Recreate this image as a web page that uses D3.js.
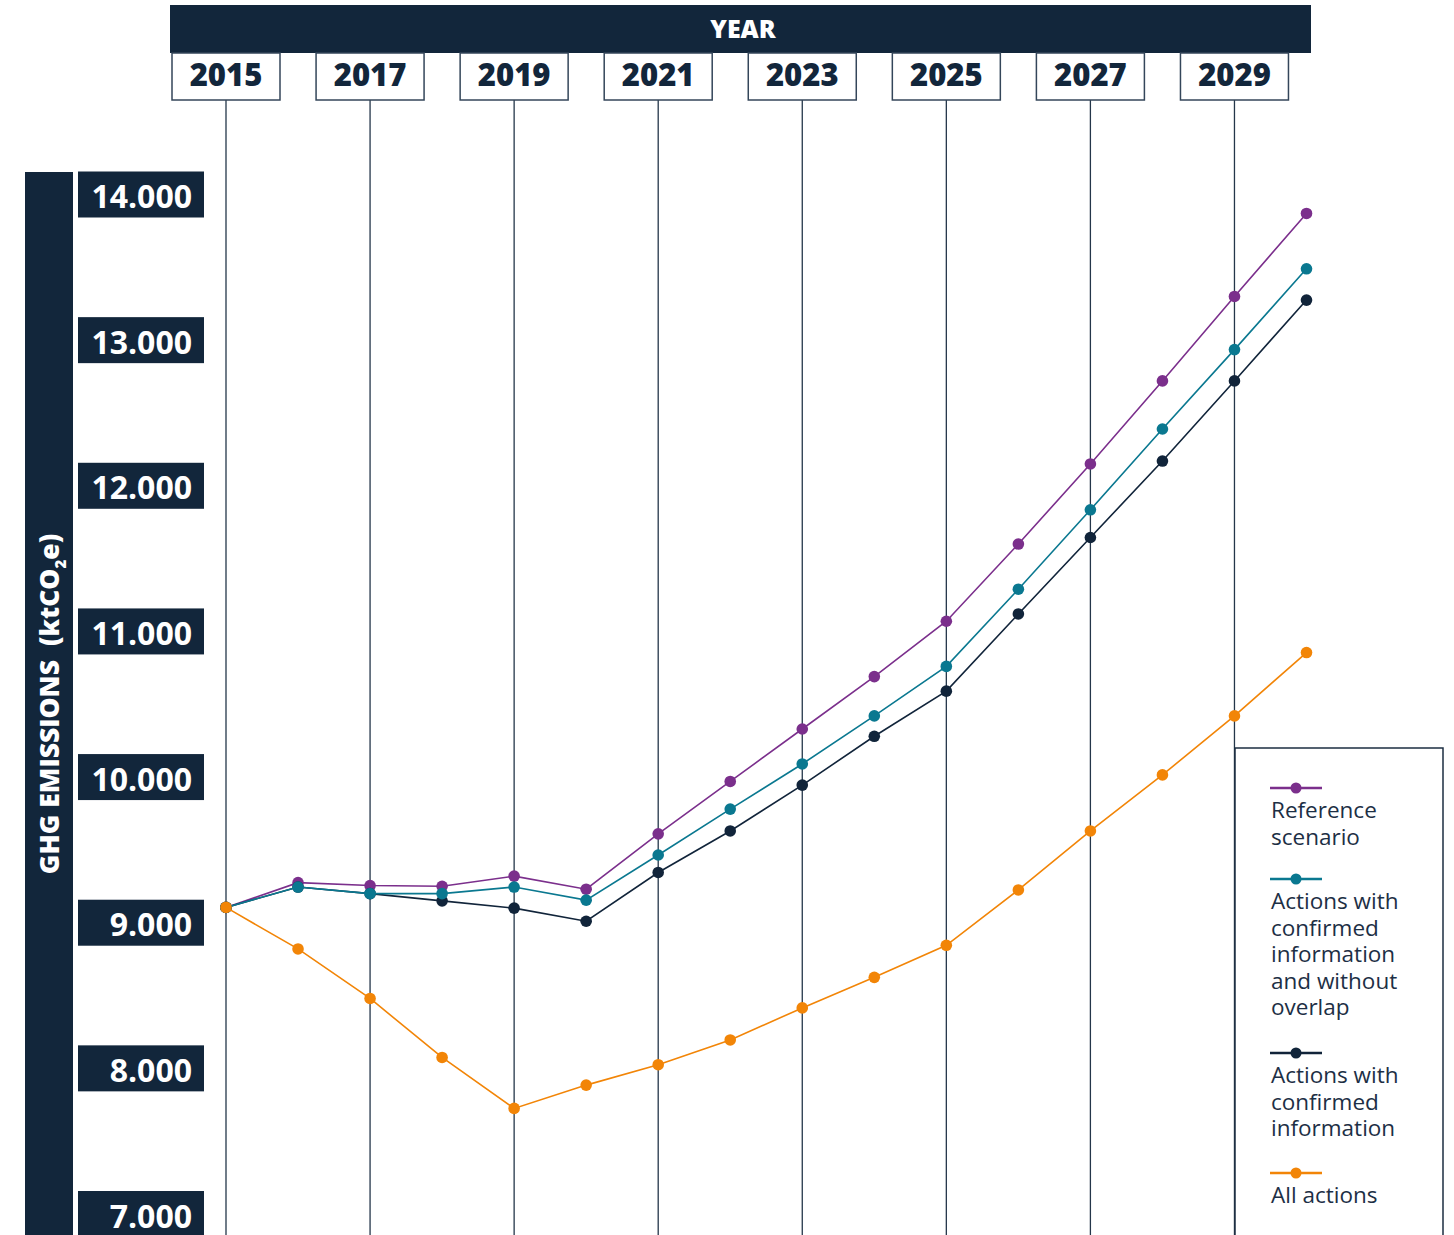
<!DOCTYPE html>
<html>
<head>
<meta charset="utf-8">
<script src="https://cdn.jsdelivr.net/npm/d3@7"></script>
<style>
  body { margin: 0; background: #fff; }
  svg { display: block; font-family: "Open Sans", "Noto Sans", sans-serif; }
</style>
</head>
<body>
<div id="chart"></div>
<script>
// data
const years = [2015, 2016, 2017, 2018, 2019, 2020, 2021, 2022, 2023, 2024, 2025, 2026, 2027, 2028, 2029, 2030];
const yearTicks = [2015, 2017, 2019, 2021, 2023, 2025, 2027, 2029];
const valueTicks = [7000, 8000, 9000, 10000, 11000, 12000, 13000, 14000];

const referenceScenario = [9105, 9275, 9255, 9250, 9320, 9230, 9610, 9970, 10330, 10690, 11070, 11600, 12150, 12720, 13300, 13870];
const confirmedNoOverlap = [9105, 9245, 9200, 9200, 9245, 9155, 9465, 9780, 10090, 10420, 10760, 11290, 11835, 12390, 12935, 13490];
const confirmedInfo = [9105, 9245, 9200, 9150, 9100, 9010, 9345, 9630, 9945, 10280, 10590, 11120, 11645, 12170, 12720, 13275];
const allActions = [9105, 8820, 8480, 8075, 7725, 7885, 8025, 8195, 8415, 8625, 8845, 9225, 9630, 10015, 10420, 10855];

const seriesNames = ["Reference scenario", "Actions with confirmed information and without overlap", "Actions with confirmed information", "All actions"];
const legendLines = [["Reference", "scenario"], ["Actions with", "confirmed", "information", "and without", "overlap"], ["Actions with", "confirmed", "information"], ["All actions"]];
const seriesColors = ["#7b2f8c", "#0a7890", "#11243a", "#f28507"];

const navy = "#12263b";
const width = 1454, height = 1235;

const series = [
    { name: seriesNames[0], values: referenceScenario, color: seriesColors[0] },
    { name: seriesNames[1], values: confirmedNoOverlap, color: seriesColors[1] },
    { name: seriesNames[2], values: confirmedInfo, color: seriesColors[2] },
    { name: seriesNames[3], values: allActions, color: seriesColors[3] }
];
// draw order: purple, navy, teal, orange
const drawOrder = [0, 2, 1, 3];

const x = d3.scaleLinear().domain([2015, 2030]).range([226, 1306.5]);
const y = d3.scaleLinear().domain([7000, 14000]).range([1214, 194.5]);
const fmt = d3.formatLocale({ decimal: ",", thousands: ".", grouping: [3], currency: ["", ""] }).format(",");

const svg = d3.select("#chart").append("svg")
    .attr("width", width)
    .attr("height", height);

// header bar
svg.append("rect")
    .attr("x", 170).attr("y", 5)
    .attr("width", 1141).attr("height", 48)
    .attr("fill", navy);
svg.append("text")
    .attr("x", 743).attr("y", 29)
    .attr("dy", "0.36em")
    .attr("text-anchor", "middle")
    .attr("fill", "#fff")
    .attr("font-size", 25)
    .attr("font-weight", 800)
    .text("YEAR");

// vertical year lines
svg.append("g").selectAll("line")
    .data(yearTicks)
    .enter().append("line")
    .attr("x1", d => x(d)).attr("x2", d => x(d))
    .attr("y1", 100).attr("y2", height)
    .attr("stroke", "#24364a")
    .attr("stroke-width", 1.3);

// year boxes
const yearBox = svg.append("g").selectAll("g")
    .data(yearTicks)
    .enter().append("g")
    .attr("transform", d => `translate(${x(d)},0)`);
yearBox.append("rect")
    .attr("x", -54).attr("y", 53)
    .attr("width", 108).attr("height", 47)
    .attr("fill", "#fff")
    .attr("stroke", "#34465a")
    .attr("stroke-width", 1.5);
yearBox.append("text")
    .attr("y", 75)
    .attr("dy", "0.36em")
    .attr("text-anchor", "middle")
    .attr("fill", navy)
    .attr("font-size", 31)
    .attr("font-weight", 800)
    .text(d => d);

// left title bar
svg.append("rect")
    .attr("x", 25).attr("y", 172)
    .attr("width", 48).attr("height", height - 172)
    .attr("fill", navy);
const title = svg.append("text")
    .attr("transform", "translate(49,704) rotate(-90)")
    .attr("dy", "0.36em")
    .attr("text-anchor", "middle")
    .attr("fill", "#fff")
    .attr("font-size", 26.5)
    .attr("font-weight", 800);
title.append("tspan").text("GHG EMISSIONS");
title.append("tspan").attr("dx", 14).text("(ktCO");
title.append("tspan").attr("font-size", 15).attr("dy", 7).text("2");
title.append("tspan").attr("dy", -7).text("e)");

// y tick boxes
const yTick = svg.append("g").selectAll("g")
    .data(valueTicks)
    .enter().append("g")
    .attr("transform", d => `translate(0,${y(d)})`);
yTick.append("rect")
    .attr("x", 78).attr("y", -23)
    .attr("width", 126).attr("height", 46)
    .attr("fill", navy);
yTick.append("text")
    .attr("x", 192)
    .attr("y", 2)
    .attr("dy", "0.36em")
    .attr("text-anchor", "end")
    .attr("fill", "#fff")
    .attr("font-size", 32)
    .attr("font-weight", 700)
    .text(d => fmt(d));

// series lines and dots
const line = d3.line()
    .x((d, i) => x(years[i]))
    .y(d => y(d));

const gSeries = svg.append("g").selectAll("g")
    .data(drawOrder.map(i => series[i]))
    .enter().append("g");
gSeries.append("path")
    .attr("d", d => line(d.values))
    .attr("fill", "none")
    .attr("stroke", d => d.color)
    .attr("stroke-width", 1.6);
gSeries.each(function (s) {
    d3.select(this).selectAll("circle")
        .data(s.values)
        .enter().append("circle")
        .attr("cx", (d, i) => x(years[i]))
        .attr("cy", d => y(d))
        .attr("r", 5.8)
        .attr("fill", s.color);
});

// legend
svg.append("path")
    .attr("d", `M1235,${height + 2}V748H1443V${height + 2}`)
    .attr("fill", "#fff")
    .attr("stroke", "#1c2e42")
    .attr("stroke-width", 1.5);

const legendY = [788, 879, 1053, 1173];
const legend = svg.append("g").selectAll("g")
    .data(series)
    .enter().append("g")
    .attr("transform", (d, i) => `translate(1270,${legendY[i]})`);
legend.append("line")
    .attr("x1", 0).attr("x2", 52)
    .attr("stroke", d => d.color)
    .attr("stroke-width", 2.5);
legend.append("circle")
    .attr("cx", 26).attr("r", 5.5)
    .attr("fill", d => d.color);
legend.append("text")
    .attr("fill", "#1d2f45")
    .attr("font-size", 22.5)
    .selectAll("tspan")
    .data((d, i) => legendLines[i])
    .enter().append("tspan")
    .attr("x", 1)
    .attr("y", (d, i) => 30 + i * 26.6)
    .text(d => d);
</script>
</body>
</html>
